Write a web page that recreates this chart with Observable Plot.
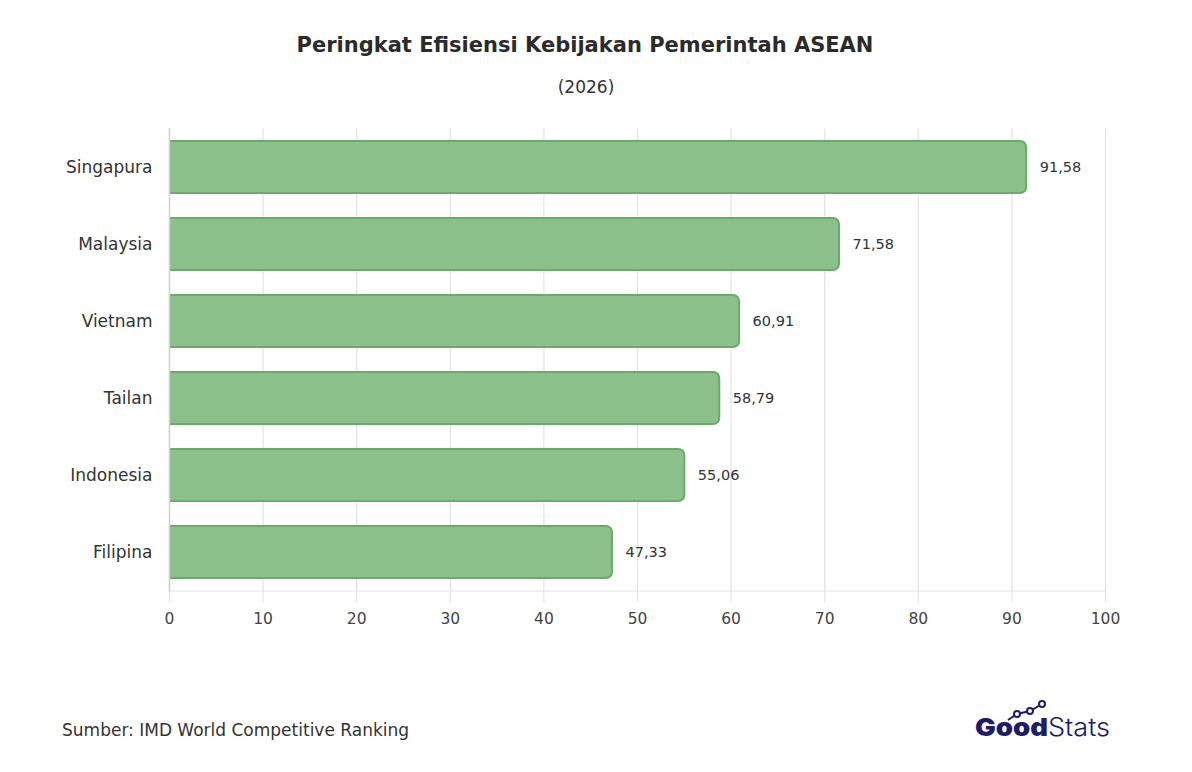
<!DOCTYPE html>
<html>
<head>
<meta charset="utf-8">
<script src="https://cdn.jsdelivr.net/npm/d3@7"></script>
<script src="https://cdn.jsdelivr.net/npm/@observablehq/plot@0.6"></script>
<style>
  html, body { margin: 0; padding: 0; background: #fff; }
  #page { position: relative; width: 1192px; height: 772px; font-family: "DejaVu Sans", sans-serif; color: #333; overflow: hidden; }
  #title { position: absolute; top: 33px; left: 0; width: 1170px; text-align: center; font-size: 21px; font-weight: 700; color: #2b2b2b; }
  #subtitle { position: absolute; top: 77px; left: 0; width: 1172px; text-align: center; font-size: 17px; color: #333; }
  #chart { position: absolute; top: 0; left: 0; }
  #source { position: absolute; top: 720px; left: 62px; font-size: 17px; color: #333; }
  #logo { position: absolute; top: 698px; left: 968px; }
</style>
</head>
<body>
<div id="page">
  <div id="chart"></div>
  <div id="title">Peringkat Efisiensi Kebijakan Pemerintah ASEAN</div>
  <div id="subtitle">(2026)</div>
  <div id="source">Sumber: IMD World Competitive Ranking</div>
  <div id="logo">
    <svg width="160" height="48" viewBox="0 0 160 48">
      <polyline points="40,22 49,16 62,13 74,6" fill="none" stroke="#1c1c6b" stroke-width="2"/>
      <circle cx="49" cy="16" r="3" fill="#fff" stroke="#1c1c6b" stroke-width="2"/>
      <circle cx="62" cy="13" r="3" fill="#fff" stroke="#1c1c6b" stroke-width="2"/>
      <circle cx="74" cy="6" r="3" fill="#fff" stroke="#1c1c6b" stroke-width="2"/>
      <text y="38" font-family="Inter, sans-serif" font-size="25" fill="#1c1c6b"><tspan x="7" font-weight="900" textLength="73" lengthAdjust="spacingAndGlyphs">Good</tspan><tspan x="80" font-weight="300" textLength="62" lengthAdjust="spacingAndGlyphs">Stats</tspan></text>
    </svg>
  </div>
</div>
<script>
const countries = ["Singapura", "Malaysia", "Vietnam", "Tailan", "Indonesia", "Filipina"];
const scores = [91.58, 71.58, 60.91, 58.79, 55.06, 47.33];
const xTicks = [0, 10, 20, 30, 40, 50, 60, 70, 80, 90, 100];

const data = countries.map((c, i) => ({country: c, value: scores[i]}));
const fmt = v => v.toFixed(2).replace(".", ",");

const chart = Plot.plot({
  width: 1192,
  height: 650,
  marginLeft: 169,
  marginRight: 87,
  marginTop: 128.5,
  marginBottom: 59.5,
  style: {fontFamily: "'DejaVu Sans', sans-serif", fontSize: "16px", color: "#333", background: "transparent"},
  x: {domain: [0, 100], ticks: xTicks},
  y: {domain: countries, paddingInner: 0.33, paddingOuter: 0.165},
  marks: [
    Plot.gridX(xTicks, {stroke: "#e2e2e2", strokeOpacity: 1, strokeWidth: 1.2}),
    Plot.frame({anchor: "bottom", stroke: "#e2e2e2", strokeWidth: 1.2}),
    Plot.axisX({ticks: xTicks, tickSize: 12, tickPadding: 10, stroke: "#e2e2e2", strokeOpacity: 1, fontSize: 15.5, fill: "#444", label: null}),
    Plot.axisY({tickSize: 0, tickPadding: 17, fontSize: 17, fill: "#333", label: null}),
    Plot.barX(data, {x1: 0, x2: "value", y: "country", fill: "#8bc08b", stroke: "#6aab69", strokeWidth: 2, rx: 6, insetLeft: -10, clip: "frame"}),
    Plot.frame({anchor: "left", stroke: "#cfcfcf", strokeWidth: 1.5}),
    Plot.text(data, {x: "value", y: "country", text: d => fmt(d.value), dx: 13, textAnchor: "start", fontSize: 14.5, fill: "#333"})
  ]
});
document.getElementById("chart").appendChild(chart);
</script>
</body>
</html>
